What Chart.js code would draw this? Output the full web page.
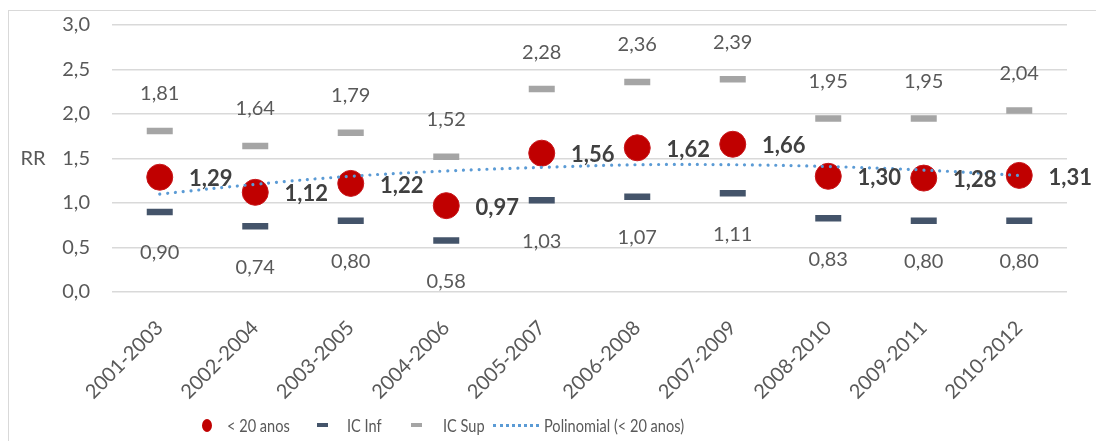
<!DOCTYPE html>
<html lang="pt">
<head>
<meta charset="utf-8">
<title>RR &lt; 20 anos</title>
<script src="https://cdn.jsdelivr.net/npm/chart.js@4.4.1/dist/chart.umd.min.js"></script>
<style>
  html, body { margin: 0; padding: 0; background: #ffffff; }
  #wrap { position: relative; width: 1096px; height: 441px; overflow: hidden; font-family: Lato, "Open Sans", sans-serif; }
  #frame { position: absolute; left: 8px; top: 10px; width: 1100px; height: 440px; border-top: 1.5px solid #D9D9D9; border-left: 1.5px solid #D9D9D9; }
  canvas { position: absolute; left: 0; top: 0; }
  .lg { position: absolute; }
  .lg-text { position: absolute; top: 413px; font-size: 18px; color: #595959; line-height: 24px; white-space: nowrap; transform: scaleX(0.81); transform-origin: 0 50%; }
</style>
</head>
<body>
<div id="wrap">
  <div id="frame"></div>
  <canvas id="chart" width="1096" height="441"></canvas>
  <div class="lg" style="left:202px; top:419px; width:10px; height:13px; border-radius:50%; background:#C00000;"></div>
  <div class="lg-text" style="left:227px;">&lt; 20 anos</div>
  <div class="lg" style="left:317px; top:423px; width:11px; height:4px; background:#44546A;"></div>
  <div class="lg-text" style="left:347px;">IC Inf</div>
  <div class="lg" style="left:411px; top:423px; width:11px; height:4px; background:#A5A5A5;"></div>
  <div class="lg-text" style="left:443px;">IC Sup</div>
  <div class="lg" style="left:493px; top:424px; width:46px; height:0; border-top:3px dotted #5B9BD5;"></div>
  <div class="lg-text" style="left:544px;">Polinomial (&lt; 20 anos)</div>
</div>
<script>
// Triennial periods on the x axis
const categories = ['2001-2003', '2002-2004', '2003-2005', '2004-2006', '2005-2007',
                    '2006-2008', '2007-2009', '2008-2010', '2009-2011', '2010-2012'];
// Relative risk for mothers under 20
const rrMenor20 = [1.29, 1.12, 1.22, 0.97, 1.56, 1.62, 1.66, 1.30, 1.28, 1.31];
// Lower and upper confidence bounds
const icInf = [0.90, 0.74, 0.80, 0.58, 1.03, 1.07, 1.11, 0.83, 0.80, 0.80];
const icSup = [1.81, 1.64, 1.79, 1.52, 2.28, 2.36, 2.39, 1.95, 1.95, 2.04];
// Polynomial trend line values at each period
const tendencia = [1.10, 1.21, 1.30, 1.36, 1.40, 1.43, 1.43, 1.41, 1.37, 1.31];
// Value axis ticks
const yTicks = [0, 0.5, 1.0, 1.5, 2.0, 2.5, 3.0];

const FONT = 'Lato, "Open Sans", sans-serif';
const fmt = (v, d) => v.toFixed(d).replace('.', ',');

// Writes the value next to each mark of a dataset
const valueLabels = {
  id: 'valueLabels',
  afterDatasetsDraw(chart) {
    const ctx = chart.ctx;
    chart.data.datasets.forEach((ds, di) => {
      const st = ds.valueLabel;
      if (!st) return;
      const meta = chart.getDatasetMeta(di);
      meta.data.forEach((pt, i) => {
        ctx.save();
        ctx.font = st.font;
        ctx.fillStyle = st.color;
        ctx.textAlign = 'center';
        ctx.textBaseline = 'middle';
        ctx.fillText(fmt(ds.data[i], 2), pt.x + st.dx, pt.y + st.dy);
        ctx.restore();
      });
    });
  }
};

// Horizontal "RR" axis name beside the value axis
const axisName = {
  id: 'axisName',
  afterDraw(chart) {
    const ctx = chart.ctx;
    const y = chart.scales.y.getPixelForValue(1.5);
    ctx.save();
    ctx.font = '20px ' + FONT;
    ctx.fillStyle = '#595959';
    ctx.textAlign = 'center';
    ctx.textBaseline = 'middle';
    ctx.fillText('RR', 33, y);
    ctx.restore();
  }
};

new Chart(document.getElementById('chart'), {
  type: 'line',
  data: {
    labels: categories,
    datasets: [
      {
        label: 'Polinomial (< 20 anos)',
        data: tendencia,
        order: -1,
        borderColor: '#5B9BD5',
        borderWidth: 3.2,
        borderDash: [0.01, 7.8],
        borderCapStyle: 'round',
        tension: 0.4,
        pointRadius: 0,
        fill: false
      },
      {
        label: '< 20 anos',
        data: rrMenor20,
        order: 1,
        showLine: false,
        pointStyle: 'circle',
        pointRadius: 13,
        pointBackgroundColor: '#C00000',
        pointBorderColor: '#C8161A',
        pointBorderWidth: 1,
        valueLabel: { font: 'bold 22px ' + FONT, color: '#404040', dx: 51, dy: 2 }
      },
      {
        label: 'IC Inf',
        data: icInf,
        order: 2,
        showLine: false,
        pointStyle: 'line',
        pointRadius: 13,
        pointBorderColor: '#44546A',
        pointBorderWidth: 6.5,
        valueLabel: { font: '20px ' + FONT, color: '#595959', dx: 0, dy: 41 }
      },
      {
        label: 'IC Sup',
        data: icSup,
        order: 3,
        showLine: false,
        pointStyle: 'line',
        pointRadius: 13,
        pointBorderColor: '#A5A5A5',
        pointBorderWidth: 6.5,
        valueLabel: { font: '20px ' + FONT, color: '#595959', dx: 0, dy: -37 }
      }
    ]
  },
  options: {
    responsive: false,
    animation: false,
    layout: { padding: { top: 25, right: 29, left: 0, bottom: 0 } },
    plugins: { legend: { display: false }, tooltip: { enabled: false } },
    scales: {
      x: {
        offset: true,
        grid: { display: false },
        border: { display: false },
        ticks: {
          autoSkip: false, maxRotation: 45, minRotation: 45, padding: 16,
          color: '#595959', font: { family: FONT, size: 20 }
        },
        afterFit(scale) { scale.height = 149; }
      },
      y: {
        min: 0, max: 3,
        afterBuildTicks(scale) { scale.ticks = yTicks.map(v => ({ value: v })); },
        grid: { color: '#D9D9D9', lineWidth: 1.5, drawTicks: true, tickLength: 20, tickColor: 'rgba(0,0,0,0)' },
        border: { display: false },
        ticks: {
          padding: 2, color: '#595959', font: { family: FONT, size: 20 },
          callback: v => fmt(v, 1)
        },
        afterFit(scale) { scale.width = 112; }
      }
    }
  },
  plugins: [valueLabels, axisName]
});
</script>
</body>
</html>
